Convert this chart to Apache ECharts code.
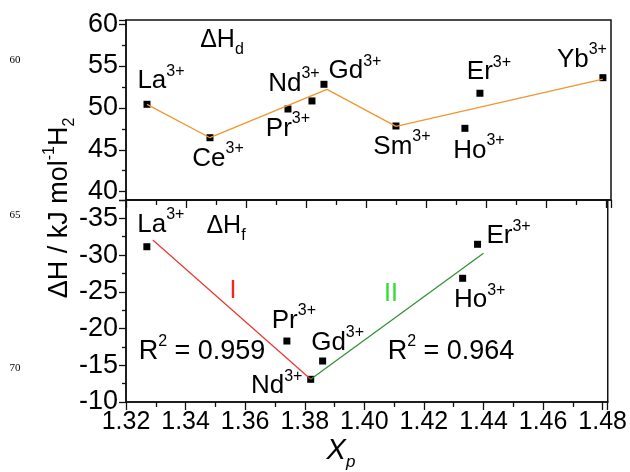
<!DOCTYPE html>
<html>
<head>
<meta charset="utf-8">
<script src="https://cdn.jsdelivr.net/npm/echarts@6/dist/echarts.min.js"></script>
<style>
  html, body { margin: 0; padding: 0; background: #fff; }
  #chart { width: 630px; height: 472px; }
</style>
</head>
<body>
<div id="chart"></div>
<script>
// Dehydrogenation enthalpy (ΔHd) and formation enthalpy (ΔHf) against Xp
const ionsD = ['La', 'Ce', 'Pr', 'Nd', 'Gd', 'Sm', 'Ho', 'Er', 'Yb'];
const xpD   = [1.327, 1.348, 1.374, 1.382, 1.386, 1.410, 1.433, 1.438, 1.479];
const dHd   = [50.43, 46.44, 49.87, 50.83, 52.82, 47.84, 47.56, 51.75, 53.61];

// connecting trend line of the ΔHd panel
const trendDx = [1.327, 1.348, 1.387, 1.410, 1.479];
const trendDy = [50.43, 46.44, 52.22, 47.80, 53.45];

const ionsF = ['La', 'Pr', 'Nd', 'Gd', 'Ho', 'Er'];
const xpF   = [1.327, 1.374, 1.382, 1.386, 1.433, 1.438];
const dHf   = [-31.14, -18.30, -13.09, -15.58, -26.84, -31.47];

// linear fits, region I and region II
const fitIx  = [1.329, 1.382];
const fitIy  = [-32.05, -13.09];
const fitIIx = [1.382, 1.440];
const fitIIy = [-13.09, -30.24];

const r2I = '0.959';
const r2II = '0.964';

const FONT = "'Liberation Sans', Arial, Helvetica, sans-serif";

// label placement around each marker (pixels: dx, dy)
const shiftD = { La: [14, -23], Ce: [8, 21], Pr: [0, 20], Nd: [-18, -17], Gd: [31, -13],
                 Sm: [6, 21], Ho: [14, 22], Er: [9, -21], Yb: [-21, -18] };
const shiftF = { La: [14, -22], Pr: [7, -20], Nd: [-34, 7], Gd: [15, -18], Ho: [17, 22], Er: [31, -8] };

const noStroke = { textBorderWidth: 0, textBorderColor: 'transparent', textShadowBlur: 0 };

const ionRich = {
  m: Object.assign({ fontSize: 26, lineHeight: 36, color: '#000', fontFamily: FONT }, noStroke),
  s: Object.assign({ fontSize: 16, lineHeight: 16, verticalAlign: 'top', color: '#000', fontFamily: FONT }, noStroke)
};

function pointData(xs, ys, names, shifts) {
  return xs.map((x, i) => ({
    value: [x, ys[i]],
    name: names[i],
    label: { offset: shifts[names[i]] }
  }));
}

function pairs(xs, ys) { return xs.map((x, i) => [x, ys[i]]); }

const pointLabel = Object.assign({
  show: true,
  position: 'inside',
  align: 'center',
  verticalAlign: 'middle',
  color: '#000',
  formatter: p => '{m|' + p.name + '}{s|3+}',
  rich: ionRich
}, noStroke);

const markerStyle = { color: '#000', opacity: 1 };

const axisBlack = { lineStyle: { color: '#111', width: 1.5 } };

function xAxisCfg(gridIndex, showLabels) {
  return {
    type: 'value', gridIndex,
    min: 1.32, max: 1.4817, interval: 0.02,
    axisLine: { show: true, onZero: false, ...axisBlack },
    axisTick: { show: true, inside: false, length: 8, lineStyle: { color: '#111', width: 1.3 } },
    minorTick: { show: true, splitNumber: 2, length: 5, lineStyle: { color: '#111', width: 1.3 } },
    splitLine: { show: false },
    minorSplitLine: { show: false },
    axisLabel: {
      show: showLabels, color: '#000', fontSize: 25, fontFamily: FONT, margin: 8,
      showMaxLabel: false,
      formatter: v => v.toFixed(2)
    }
  };
}

function yAxisCfg(gridIndex, min, max, inverse, showMax) {
  return {
    type: 'value', gridIndex, min, max, inverse, splitNumber: 5,
    axisLine: { show: true, onZero: false, ...axisBlack },
    axisTick: { show: true, inside: false, length: 7, lineStyle: { color: '#111', width: 1.3 } },
    minorTick: { show: true, splitNumber: 2, length: 4, lineStyle: { color: '#111', width: 1.3 } },
    splitLine: { show: false },
    minorSplitLine: { show: false },
    axisLabel: {
      color: '#000', fontSize: 27, fontFamily: FONT, margin: 8,
      showMinLabel: false, showMaxLabel: showMax
    }
  };
}

function txt(x, y, text, rich, fill, extra) {
  return Object.assign({
    type: 'text', x, y, silent: true,
    style: { text, rich, align: 'center', verticalAlign: 'middle', fill: fill || '#000', font: '25px ' + FONT }
  }, extra || {});
}

const subRich = {
  m: { fontSize: 25, lineHeight: 36, color: '#000', fontFamily: FONT },
  b: { fontSize: 16, lineHeight: 14, verticalAlign: 'bottom', color: '#000', fontFamily: FONT }
};
const r2Rich = {
  m: { fontSize: 27, lineHeight: 36, color: '#000', fontFamily: FONT },
  s: { fontSize: 16, lineHeight: 16, verticalAlign: 'top', color: '#000', fontFamily: FONT }
};
const yTitleRich = {
  m: { fontSize: 27, lineHeight: 36, color: '#000', fontFamily: FONT },
  s: { fontSize: 16, lineHeight: 16, verticalAlign: 'top', color: '#000', fontFamily: FONT },
  b: { fontSize: 16, lineHeight: 14, verticalAlign: 'bottom', color: '#000', fontFamily: FONT }
};
const xTitleRich = {
  m: { fontSize: 29, lineHeight: 40, fontStyle: 'italic', color: '#000', fontFamily: FONT },
  b: { fontSize: 17, lineHeight: 16, verticalAlign: 'bottom', fontStyle: 'italic', color: '#000', fontFamily: FONT }
};

const SERIF = "11px 'Liberation Serif', 'Times New Roman', serif";

const chart = echarts.init(document.getElementById('chart'), null, { renderer: 'canvas' });

chart.setOption({
  backgroundColor: '#fff',
  animation: false,
  grid: [
    { left: 126, top: 20, width: 485, height: 180, show: true, borderColor: '#111', borderWidth: 1.5, backgroundColor: 'transparent' },
    { left: 126, top: 200, width: 485, height: 202, show: true, borderColor: '#111', borderWidth: 1.5, backgroundColor: 'transparent' }
  ],
  xAxis: [xAxisCfg(0, false), xAxisCfg(1, true)],
  yAxis: [
    yAxisCfg(0, 39, 60.5, false, false),
    yAxisCfg(1, -37.5, -10, true, true)
  ],
  series: [
    {
      type: 'line', xAxisIndex: 0, yAxisIndex: 0, silent: true,
      data: pairs(trendDx, trendDy), showSymbol: false, symbol: 'none',
      lineStyle: { color: '#f0962d', width: 1.3 }
    },
    {
      type: 'scatter', xAxisIndex: 0, yAxisIndex: 0, silent: true,
      symbol: 'rect', symbolSize: 7, itemStyle: markerStyle,
      data: pointData(xpD, dHd, ionsD, shiftD), label: pointLabel
    },
    {
      type: 'line', xAxisIndex: 1, yAxisIndex: 1, silent: true,
      data: pairs(fitIx, fitIy), showSymbol: false, symbol: 'none',
      lineStyle: { color: '#e8372e', width: 1.2 }
    },
    {
      type: 'line', xAxisIndex: 1, yAxisIndex: 1, silent: true,
      data: pairs(fitIIx, fitIIy), showSymbol: false, symbol: 'none',
      lineStyle: { color: '#2f8f2f', width: 1.2 }
    },
    {
      type: 'scatter', xAxisIndex: 1, yAxisIndex: 1, silent: true,
      symbol: 'rect', symbolSize: 7, itemStyle: markerStyle,
      data: pointData(xpF, dHf, ionsF, shiftF), label: pointLabel
    }
  ],
  graphic: [
    // panel captions
    txt(222, 40, '{m|ΔH}{b|d}', subRich),
    txt(226, 226, '{m|ΔH}{b|f}', subRich),
    // fit regions
    txt(233, 291, 'I', null, '#ff2020'),
    txt(391, 294, 'II', null, '#33dd33'),
    // goodness of fit
    txt(202, 352, '{m|R}{s|2}{m| = ' + r2I + '}', r2Rich),
    txt(451, 352, '{m|R}{s|2}{m| = ' + r2II + '}', r2Rich),
    // axis titles
    txt(60, 208, '{m|ΔH / kJ mol}{s|-1}{m|H}{b|2}', yTitleRich, null, { rotation: Math.PI / 2 }),
    txt(341, 451, '{m|X}{b|p}', xTitleRich),
    // manuscript line numbers
    { type: 'text', x: 15, y: 60, silent: true, style: { text: '60', align: 'center', verticalAlign: 'middle', fill: '#000', font: SERIF } },
    { type: 'text', x: 15, y: 215, silent: true, style: { text: '65', align: 'center', verticalAlign: 'middle', fill: '#000', font: SERIF } },
    { type: 'text', x: 15, y: 368, silent: true, style: { text: '70', align: 'center', verticalAlign: 'middle', fill: '#000', font: SERIF } }
  ]
});
</script>
</body>
</html>
